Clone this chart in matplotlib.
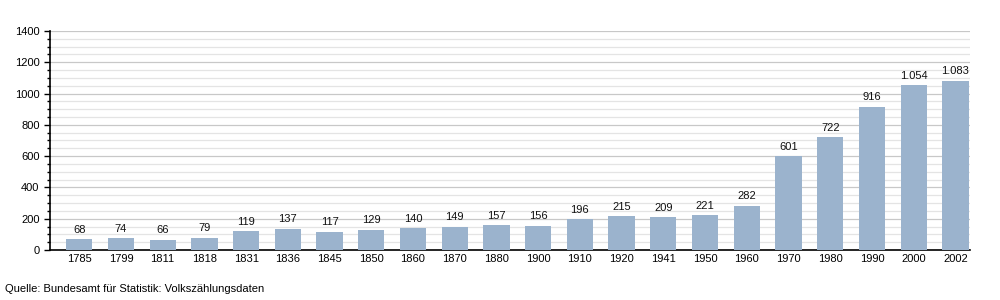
import matplotlib
matplotlib.use("Agg")
import matplotlib.pyplot as plt
from matplotlib.ticker import MultipleLocator

years = ["1785", "1799", "1811", "1818", "1831", "1836", "1845", "1850", "1860",
         "1870", "1880", "1900", "1910", "1920", "1941", "1950", "1960", "1970",
         "1980", "1990", "2000", "2002"]
population = [68, 74, 66, 79, 119, 137, 117, 129, 140, 149, 157, 156, 196,
              215, 209, 221, 282, 601, 722, 916, 1054, 1083]
source = "Quelle: Bundesamt für Statistik: Volkszählungsdaten"

plt.rcParams["font.family"] = ["Liberation Sans", "DejaVu Sans"]
plt.rcParams["font.size"] = 8

fig = plt.figure(figsize=(10, 3), dpi=100)
ax = fig.add_axes([0.05, 0.1667, 0.92, 0.73])

x = list(range(len(years)))
ax.bar(x, population, width=0.63, color="#9bb3cd", zorder=3)
for xi, v in zip(x, population):
    label = f"{v:,}".replace(",", ".")
    ax.text(xi, v + 28, label, ha="center", va="bottom", fontsize=8, color="#111111")

ax.set_xlim(-0.7, len(years) - 1 + 0.35)
ax.set_ylim(0, 1400)
ax.set_xticks(x)
ax.set_xticklabels(years)
ax.yaxis.set_major_locator(MultipleLocator(200))
ax.yaxis.set_minor_locator(MultipleLocator(50))
ax.grid(axis="y", which="major", color="#c8c8c8", linewidth=0.9, zorder=0)
ax.grid(axis="y", which="minor", color="#e4e4e4", linewidth=0.9, zorder=0)
ax.tick_params(axis="x", length=0, pad=3)
ax.tick_params(axis="y", which="major", length=4, width=1, color="black")
ax.tick_params(axis="y", which="minor", length=2.5, width=1, color="black")
for side in ["top", "right"]:
    ax.spines[side].set_visible(False)
ax.spines["left"].set_linewidth(1.2)
ax.spines["bottom"].set_linewidth(1.2)

fig.text(0.005, 0.02, source, fontsize=8, ha="left", va="bottom")

fig.savefig("out.png", dpi=100)
